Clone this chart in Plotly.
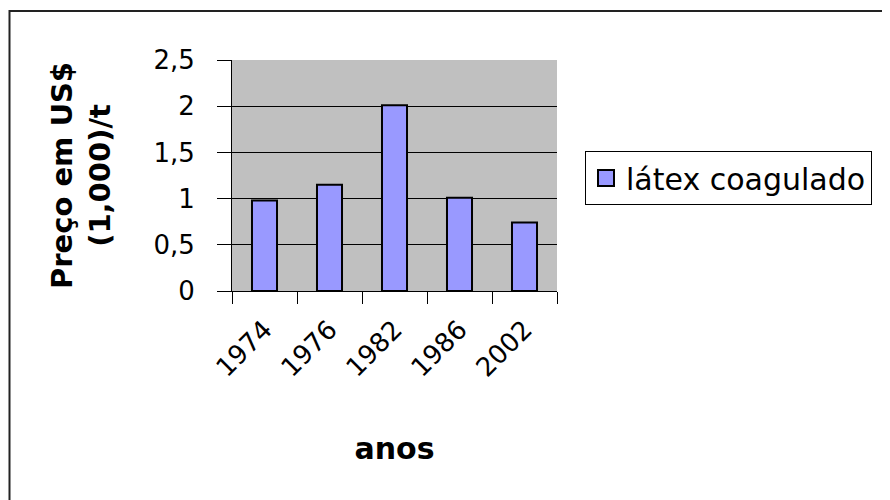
import plotly.graph_objects as go

# Data
anos = ["1974", "1976", "1982", "1986", "2002"]
precos = [0.98, 1.15, 2.01, 1.01, 0.74]
serie_nome = "látex coagulado"
y_ticks = [0, 0.5, 1, 1.5, 2, 2.5]

FONT = "DejaVu Sans"
BAR_COLOR = "#9999FF"

# Page offset (body margin) and plot area geometry (pixels, in screenshot coords)
OFF = 8
W, H = 890, 500
L, T = 232 - OFF, 60 - OFF
pw, ph = 325, 231
R, B = W - L - pw, H - T - ph


def px_x(x):
    return (x - OFF - L) / pw


def px_y(y):
    return (T + ph - (y - OFF)) / ph


fig = go.Figure()
fig.add_trace(go.Bar(
    x=anos, y=precos, name=serie_nome, showlegend=False,
    marker=dict(color=BAR_COLOR, line=dict(color="black", width=2)),
))
# legend entry
fig.add_trace(go.Scatter(
    x=[None], y=[None], mode="markers", name=serie_nome,
    marker=dict(symbol="square", size=16, color=BAR_COLOR,
                line=dict(color="black", width=2)),
))

fig.update_layout(
    width=W, height=H,
    margin=dict(l=L, r=R, t=T, b=B, autoexpand=False),
    paper_bgcolor="white",
    plot_bgcolor="#C0C0C0",
    separators=",.",
    bargap=0.615,
    font=dict(family=FONT, color="black", size=26),
    showlegend=True,
    legend=dict(
        x=px_x(585), y=px_y(151), xanchor="left", yanchor="top",
        bgcolor="white", bordercolor="black", borderwidth=1,
        font=dict(family=FONT, size=30, color="black"),
    ),
    shapes=[
        dict(type="rect", xref="paper", yref="paper",
             x0=px_x(9.5), x1=px_x(886.5), y0=px_y(520), y1=px_y(11),
             line=dict(color="#222222", width=2), fillcolor="rgba(0,0,0,0)",
             layer="below"),
    ],
)

fig.update_xaxes(
    type="category", range=[-0.5, 4.5],
    showline=True, linecolor="black", linewidth=1,
    ticks="outside", tickson="boundaries", ticklen=12, tickcolor="black",
    tickangle=-45, ticklabelstandoff=12,
    tickfont=dict(family=FONT, size=26),
    showgrid=False, automargin=False,
    title=dict(text="<b>anos</b>", font=dict(family=FONT, size=30), standoff=56),
)

fig.update_yaxes(
    range=[0, 2.5], tickvals=y_ticks,
    showline=True, linecolor="black", linewidth=1,
    ticks="outside", ticklen=14, tickcolor="black",
    ticklabelstandoff=17,
    tickfont=dict(family=FONT, size=26),
    showgrid=True, gridcolor="black", gridwidth=1,
    zeroline=False, automargin=False,
    title=dict(text="<b>Preço em US$<br>(1,000)/t</b>",
               font=dict(family=FONT, size=29), standoff=34),
)

fig.write_html("out.html")
